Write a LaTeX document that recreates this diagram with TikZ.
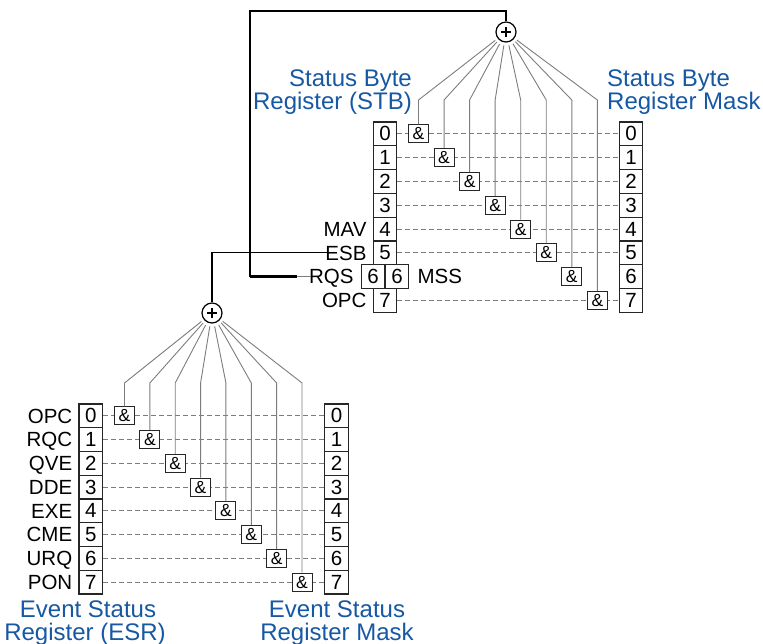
\documentclass[tikz,border=0pt]{standalone}
\usepackage{fontspec}
\setmainfont{Liberation Sans}
\definecolor{ttl}{RGB}{22,88,163}
\definecolor{fang}{RGB}{125,125,125}
\begin{document}
\begin{tikzpicture}[x=1pt,y=-1pt,
  reg/.style={draw=black!85, line width=1.2pt, minimum width=23.5pt, minimum height=23.8pt, inner sep=0pt, font=\fontsize{20.5}{20.5}\selectfont},
  andbox/.style={draw=black!85, fill=white, line width=1pt, minimum width=20pt, minimum height=18pt, inner sep=0pt, font=\fontsize{17.5}{17.5}\selectfont},
  lbl/.style={inner sep=0pt, font=\fontsize{20.5}{20.5}\selectfont},
  ttlst/.style={inner sep=0pt, text=ttl, font=\fontsize{24}{24}\selectfont},
  fan/.style={draw=fang, line width=0.9pt},
  dashline/.style={draw=fang, line width=0.9pt, dash pattern=on 5pt off 3pt},
  sumnode/.style={circle, draw, line width=1.2pt, minimum size=20pt, inner sep=0pt, fill=white},
  blk/.style={draw=black, line width=1.6pt}
]
\useasboundingbox (0,0) rectangle (763,644);

% ---------- Status Byte Register ----------
\foreach \i in {0,1,2,3,4,5,7} {
  \pgfmathsetmacro\yy{133.9+23.8*\i}
  \node[reg] (s\i) at (385,\yy) {\i};
}
\node[reg] (s6) at (373,276.7) {6};
\node[reg] (sx6) at (397,276.7) {6};
\foreach \i in {0,...,7} {
  \pgfmathsetmacro\yy{133.9+23.8*\i}
  \node[reg] (sm\i) at (631,\yy) {\i};
}
\foreach \i in {0,1,2,3,4,5,7} {
  \draw[dashline] (s\i.east) -- (sm\i.west);
}
\node[sumnode] (sum1) at (506,32) {};
\draw[line width=1.5pt] (sum1.center) ++(-5,0) -- ++(10,0);
\draw[line width=1.5pt] (sum1.center) ++(0,-5) -- ++(0,10);
\foreach \i in {0,...,7} {
  \pgfmathsetmacro\yy{133.9+23.8*\i}
  \pgfmathsetmacro\xx{418.5+25.55*\i}
  \node[andbox] (sa\i) at (\xx,\yy) {\&};
  \coordinate (sc\i) at (\xx,100);
  \draw[fan, shorten >=3pt] (sa\i.north) -- (sc\i) -- (sum1);
}
\node[lbl, anchor=base east] (lMAV) at ([shift={(-6,7.3)}]s4.west) {MAV};
\node[lbl, anchor=base east] (lESB) at ([shift={(-6,7.3)}]s5.west) {ESB};
\node[lbl, anchor=base east] (lRQS) at ([shift={(-7,7.3)}]s6.west) {RQS};
\node[lbl, anchor=base east] (lOPC) at ([shift={(-6,7.3)}]s7.west) {OPC};
\node[lbl, anchor=base west] (lMSS) at ([shift={(8,7.3)}]sx6.east) {MSS};

\node[ttlst, anchor=base east] (t1a) at (412,87) {Status Byte};
\node[ttlst, anchor=base east] (t1b) at (412,109.5) {Register (STB)};
\node[ttlst, anchor=base west] (t2a) at (607,87) {Status Byte};
\node[ttlst, anchor=base west] (t2b) at (607,109.5) {Register Mask};

% ---------- Event Status Register ----------
\foreach \i in {0,...,7} {
  \pgfmathsetmacro\yy{415.9+23.75*\i}
  \node[reg] (e\i) at (90.8,\yy) {\i};
  \node[reg] (em\i) at (336.5,\yy) {\i};
  \draw[dashline] (e\i.east) -- (em\i.west);
}
\node[sumnode] (sum2) at (212,313) {};
\draw[line width=1.5pt] (sum2.center) ++(-5,0) -- ++(10,0);
\draw[line width=1.5pt] (sum2.center) ++(0,-5) -- ++(0,10);
\foreach \i in {0,...,7} {
  \pgfmathsetmacro\yy{415.9+23.75*\i}
  \pgfmathsetmacro\xx{124.5+25.36*\i}
  \node[andbox] (ea\i) at (\xx,\yy) {\&};
  \coordinate (ec\i) at (\xx,383);
  \draw[fan, shorten >=3pt] (ea\i.north) -- (ec\i) -- (sum2);
}
\foreach \i/\t in {0/OPC,1/RQC,2/QVE,3/DDE,4/EXE,5/CME,6/URQ,7/PON} {
  \node[lbl, anchor=base east] (le\i) at ([shift={(-6,7.3)}]e\i.west) {\t};
}
\node[ttlst, anchor=base] (t3a) at (88,617) {Event Status};
\node[ttlst, anchor=base] (t3b) at (85,640) {Register (ESR)};
\node[ttlst, anchor=base] (t4a) at (337,617) {Event Status};
\node[ttlst, anchor=base] (t4b) at (337,640) {Register Mask};

% ---------- black connectors ----------
\coordinate (tl) at (250,11);
\coordinate (rqend) at (297,276.7);
\coordinate (rqg) at (311,276.7);
\coordinate (esbend) at (331,252.9);
\draw[blk] (sum1.north) |- (tl) |- (rqend);
\draw[line width=2.4pt] (tl |- rqend) -- (rqend);
\draw[fang, line width=1.4pt] (rqend) -- (rqg);
\draw[black, line width=1.1pt] (esbend) -| (sum2.north);
\end{tikzpicture}
\end{document}
